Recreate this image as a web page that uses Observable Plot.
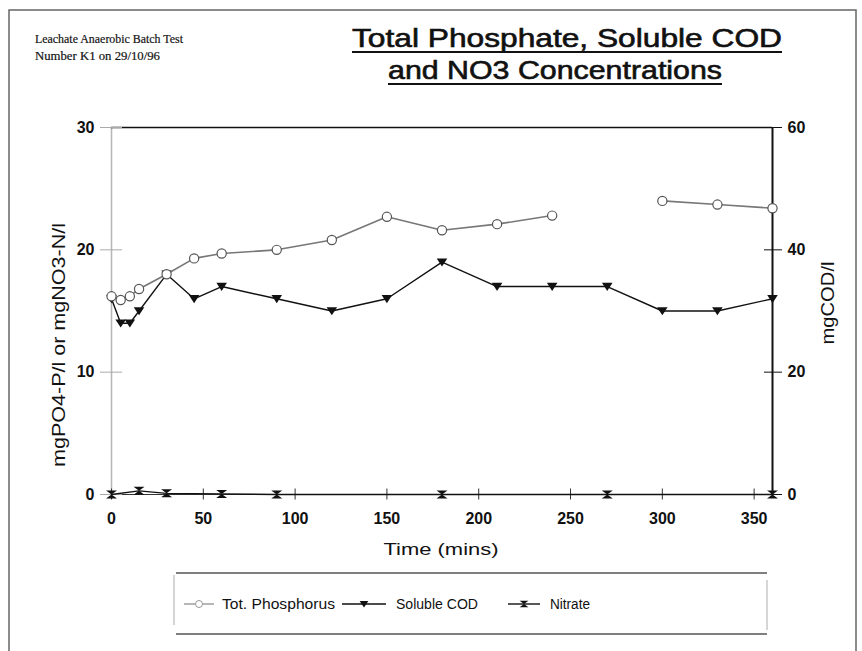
<!DOCTYPE html>
<html><head><meta charset="utf-8">
<script src="https://cdn.jsdelivr.net/npm/d3@7"></script>
<script src="https://cdn.jsdelivr.net/npm/@observablehq/plot@0.6"></script>
<style>
body{margin:0;background:#fff;}
#wrap{position:relative;width:862px;height:651px;overflow:hidden;background:#fff;}
#wrap svg{position:absolute;left:0;top:0;}
</style>
</head><body><div id="wrap"></div>
<script>
// ---- data ----
const times = [0, 5, 10, 15, 30, 45, 60, 90, 120, 150, 180, 210, 240, 270, 300, 330, 360];
const totPhosphorus = [16.2, 15.9, 16.2, 16.8, 18, 19.3, 19.7, 20, 20.8, 22.7, 21.6, 22.1, 22.8, null, 24, 23.7, 23.4]; // mgPO4-P/l
const solubleCOD = [32, 28, 28, 30, 36, 32, 34, 32, 30, 32, 38, 34, 34, 34, 30, 30, 32]; // mgCOD/l
const nitrateTimes = [0, 15, 30, 60, 90, 180, 270, 360];
const nitrate = [0, 0.3, 0.1, 0.05, 0, 0, 0, 0]; // mgNO3-N/l
const xTicks = [0, 50, 100, 150, 200, 250, 300, 350];
const leftTicks = [0, 10, 20, 30];
const rightTicks = [0, 20, 40, 60];
const seriesNames = ["Tot. Phosphorus", "Soluble COD", "Nitrate"];

const pRows = times.map((t, i) => ({t, v: totPhosphorus[i]}));
const codRows = times.map((t, i) => ({t, v: solubleCOD[i]}));
const nRows = nitrateTimes.map((t, i) => ({t, v: nitrate[i]}));
const codToLeft = d => d / 2; // right axis 0-60 maps onto left axis 0-30

// ---- symbols ----
const triDown = {draw(ctx, size) { const r = Math.sqrt(size / Math.PI);
  ctx.moveTo(-r * 1.15, -r * 0.8); ctx.lineTo(r * 1.15, -r * 0.8); ctx.lineTo(0, r * 0.95); ctx.closePath(); }};
const hourglass = {draw(ctx, size) { const r = Math.sqrt(size / Math.PI);
  ctx.moveTo(-r * 1.1, -r * 0.8); ctx.lineTo(r * 1.1, -r * 0.8); ctx.lineTo(0, 0); ctx.closePath();
  ctx.moveTo(-r * 1.1, r * 0.8); ctx.lineTo(r * 1.1, r * 0.8); ctx.lineTo(0, 0); ctx.closePath(); }};

const W = 862, H = 651;
const font = "'Liberation Sans', Arial, sans-serif";

const plot = Plot.plot({
  width: W, height: H,
  marginLeft: 111, marginRight: 90, marginTop: 127, marginBottom: 157,
  x: {domain: [0, 360]},
  y: {domain: [0, 30]},
  style: {fontFamily: font, fontSize: "16px", fontWeight: "bold", color: "#111", background: "transparent"},
  marks: [
    Plot.ruleX([0], {stroke: "#b8b8b8", strokeWidth: 1.6}),
    Plot.ruleY([30], {stroke: "#111", strokeWidth: 1.6}),
    Plot.ruleY([0], {stroke: "#333", strokeWidth: 1}),
    Plot.ruleX([360], {stroke: "#111", strokeWidth: 2}),
    Plot.axisX(xTicks, {tickSize: 11, dy: -5.5, fill: "none", stroke: "#333", label: null}),
    Plot.axisX(xTicks, {tickSize: 0, tickPadding: 18, stroke: "none", label: null}),
    Plot.axisY(leftTicks, {anchor: "left", tickSize: 22, dx: 11, fill: "none", stroke: "#aaa", label: null}),
    Plot.axisY(leftTicks, {anchor: "left", tickSize: 0, tickPadding: 17, stroke: "none", label: null}),
    Plot.axisY(leftTicks, {anchor: "right", tickSize: 18, dx: -9, fill: "none", stroke: "#111", label: null}),
    Plot.axisY(leftTicks, {anchor: "right", tickSize: 0, tickPadding: 15, stroke: "none", label: null,
      tickFormat: d => rightTicks[leftTicks.indexOf(d)]}),
    Plot.line(nRows, {x: "t", y: "v", stroke: "#111", strokeWidth: 1.3}),
    Plot.dot(nRows, {x: "t", y: "v", symbol: hourglass, r: 5, fill: "#111", stroke: "none"}),
    Plot.line(codRows, {x: "t", y: d => codToLeft(d.v), stroke: "#111", strokeWidth: 1.4}),
    Plot.dot(codRows, {x: "t", y: d => codToLeft(d.v), symbol: triDown, r: 4.6, fill: "#111", stroke: "none"}),
    Plot.line(pRows, {x: "t", y: "v", stroke: "#777", strokeWidth: 1.6}),
    Plot.dot(pRows.filter(d => d.v != null), {x: "t", y: "v", r: 4.6, fill: "#fff", stroke: "#555", strokeWidth: 1.2})
  ]
});
document.getElementById("wrap").appendChild(plot);

// ---- overlay: frame, titles, axis titles, legend ----
const ov = d3.select("#wrap").append("svg").attr("width", W).attr("height", H)
  .style("font-family", font).style("pointer-events", "none");
ov.append("path").attr("d", "M9,651V10H856V651").attr("fill", "none").attr("stroke", "#666").attr("stroke-width", 1.5);

function txt(s, x, y, size, opts = {}) {
  const t = ov.append("text").attr("x", x).attr("y", y).style("font-size", size + "px").attr("fill", "#111").text(s);
  if (opts.anchor) t.attr("text-anchor", opts.anchor);
  if (opts.len) t.attr("textLength", opts.len).attr("lengthAdjust", "spacingAndGlyphs");
  if (opts.family) t.style("font-family", opts.family);
  if (opts.weight) t.style("font-weight", opts.weight);
  if (opts.thick) t.attr("stroke", "#111").attr("stroke-width", opts.thick);
  if (opts.rotate) t.attr("transform", `rotate(-90 ${x} ${y})`);
  return t;
}
const serif = "'Liberation Serif', 'Times New Roman', serif";
txt("Leachate Anaerobic Batch Test", 35, 43, 13, {family: serif, len: 148, thick: 0.2});
txt("Number K1 on 29/10/96", 35, 60, 13, {family: serif, len: 125, thick: 0.2});

txt("Total Phosphate, Soluble COD", 567, 47, 25, {anchor: "middle", len: 430, thick: 0.6});
ov.append("line").attr("x1", 352).attr("x2", 782).attr("y1", 52).attr("y2", 52).attr("stroke", "#111").attr("stroke-width", 2.2);
txt("and NO3 Concentrations", 555, 79, 25, {anchor: "middle", len: 334, thick: 0.6});
ov.append("line").attr("x1", 388).attr("x2", 722).attr("y1", 84).attr("y2", 84).attr("stroke", "#111").attr("stroke-width", 2.2);

txt("mgPO4-P/l or mgNO3-N/l", 65, 345, 18, {anchor: "middle", len: 244, rotate: true});
txt("mgCOD/l", 834, 303, 18, {anchor: "middle", len: 83, rotate: true});
txt("Time (mins)", 441, 555, 17, {anchor: "middle", len: 115});

// legend box
ov.append("line").attr("x1", 176).attr("x2", 767).attr("y1", 573).attr("y2", 573).attr("stroke", "#555").attr("stroke-width", 1.3);
ov.append("line").attr("x1", 176).attr("x2", 767).attr("y1", 634).attr("y2", 634).attr("stroke", "#555").attr("stroke-width", 1.3);
ov.append("line").attr("x1", 174).attr("x2", 174).attr("y1", 575).attr("y2", 625).attr("stroke", "#aaa").attr("stroke-width", 1);
ov.append("line").attr("x1", 767).attr("x2", 767).attr("y1", 580).attr("y2", 630).attr("stroke", "#bbb").attr("stroke-width", 1.2);

function sym(symbol, r, x, y, fill, stroke) {
  const p = d3.path(); symbol.draw(p, Math.PI * r * r);
  ov.append("path").attr("d", p.toString()).attr("transform", `translate(${x},${y})`)
    .attr("fill", fill).attr("stroke", stroke);
}
const ly = 604;
const legendItems = [
  {x1: 184, x2: 214, tx: 222, len: 113, stroke: "#999"},
  {x1: 342, x2: 386, tx: 396, len: 82, stroke: "#111"},
  {x1: 508, x2: 540, tx: 550, len: 40, stroke: "#111"}
];
legendItems.forEach((it, i) => {
  ov.append("line").attr("x1", it.x1).attr("x2", it.x2).attr("y1", ly).attr("y2", ly).attr("stroke", it.stroke).attr("stroke-width", 1.4);
  const cx = (it.x1 + it.x2) / 2;
  if (i === 0) ov.append("circle").attr("cx", cx).attr("cy", ly).attr("r", 3.5).attr("fill", "#fff").attr("stroke", "#999");
  if (i === 1) sym(triDown, 3.8, cx, ly, "#111", "none");
  if (i === 2) sym(hourglass, 4, cx, ly, "#111", "none");
  txt(seriesNames[i], it.tx, ly + 5, 14, {len: it.len});
});
</script>
</body></html>
